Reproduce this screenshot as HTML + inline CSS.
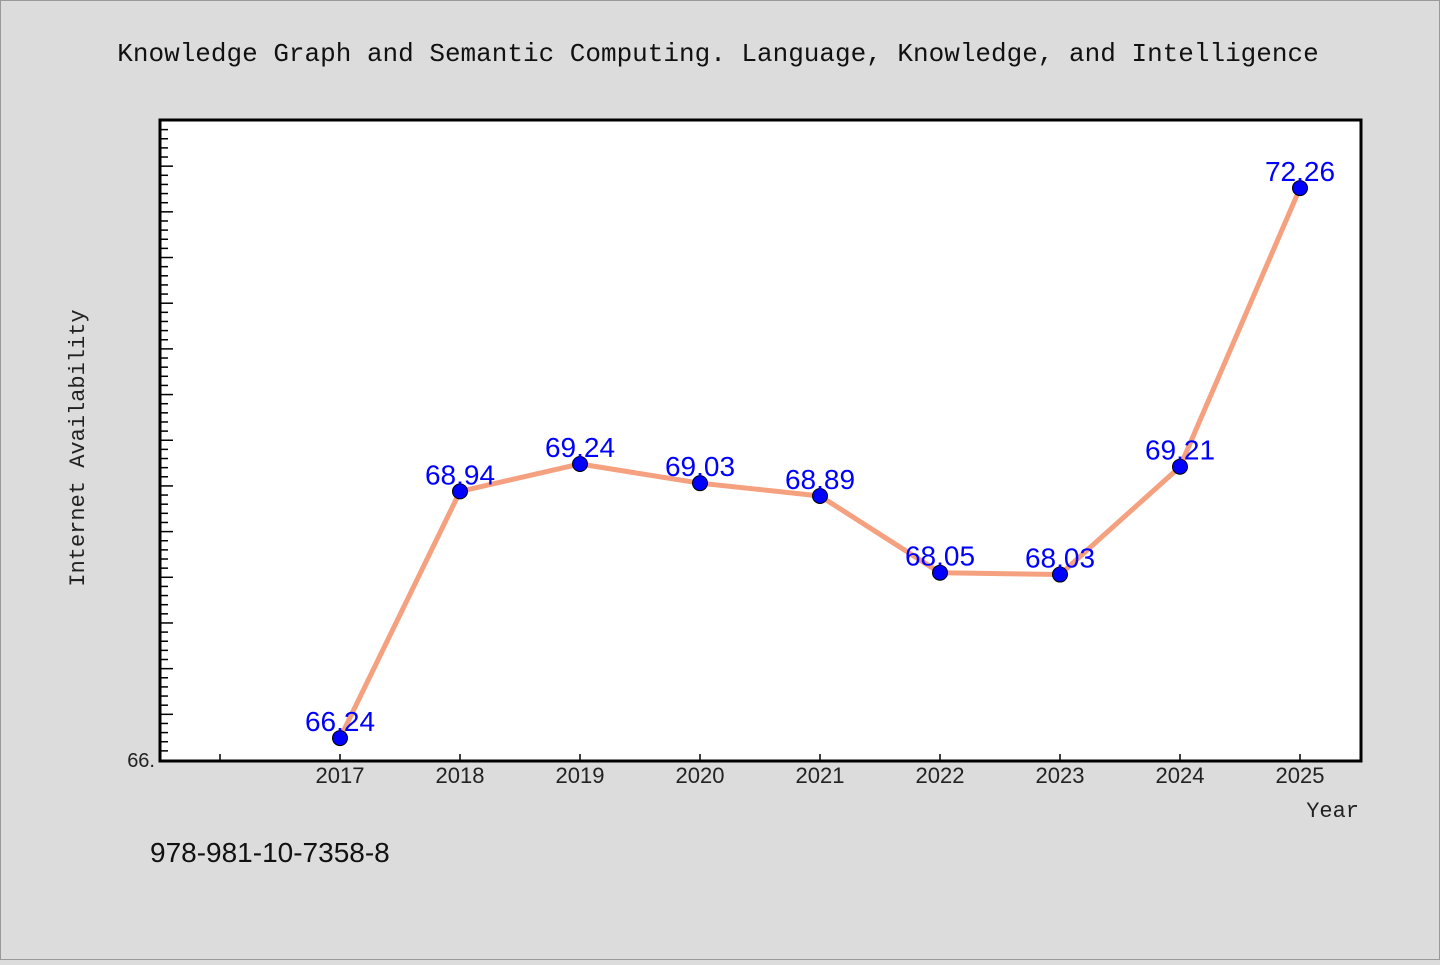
<!DOCTYPE html>
<html><head><meta charset="utf-8"><style>
body{margin:0;background:#dcdcdc;}
svg text{font-family:"Liberation Mono","DejaVu Sans Mono",monospace;}
</style></head><body>
<svg id="c" width="1440" height="960" xmlns="http://www.w3.org/2000/svg">
<rect x="0.5" y="0.5" width="1439" height="959" fill="#dcdcdc" stroke="#999"/>
<text x="718" y="61" text-anchor="middle" font-size="26" fill="#111">Knowledge Graph and Semantic Computing. Language, Knowledge, and Intelligence</text>
<rect x="160" y="120" width="1201" height="641" fill="#fff"/>
<g id="ticks"></g>
<g id="marks"></g>
<rect x="160" y="120" width="1201" height="641" fill="none" stroke="#000" stroke-width="3"/>
<text x="155" y="767" text-anchor="end" font-size="20" font-family="Liberation Sans, sans-serif" fill="#222" style="font-family:'Liberation Sans',sans-serif">66.</text>
<text transform="translate(84,448) rotate(-90)" text-anchor="middle" font-size="22" fill="#222">Internet Availability</text>
<text x="1359" y="817" text-anchor="end" font-size="22" fill="#222">Year</text>
<text x="150" y="862" font-size="28" fill="#111" style="font-family:'Liberation Sans',sans-serif">978-981-10-7358-8</text>
</svg>
<script>
const years=[2017,2018,2019,2020,2021,2022,2023,2024,2025];
const values=[66.24,68.94,69.24,69.03,68.89,68.05,68.03,69.21,72.26];
const labels=["66.24","68.94","69.24","69.03","68.89","68.05","68.03","69.21","72.26"];
const xTicks=[2016,2017,2018,2019,2020,2021,2022,2023,2024,2025];
const NS="http://www.w3.org/2000/svg";
const X=v=>340+(v-2017)*120;
const Y=v=>760-(v-66)*91.36;
function mk(t,a,p){const e=document.createElementNS(NS,t);for(const k in a)e.setAttribute(k,a[k]);p.appendChild(e);return e;}
const tk=document.getElementById('ticks'),mg=document.getElementById('marks');
for(let i=1;i<=69;i++){const v=66+i*0.1;const y=Y(v);if(y<122)break;const major=i%5===0;
const l=mk('line',{x1:160,x2:major?173:168,y1:y,y2:y,stroke:'#000','stroke-width':1.5},tk);

}
xTicks.forEach(yr=>{const x=X(yr);
const l=mk('line',{x1:x,x2:x,y1:761,y2:754,stroke:'#000','stroke-width':1.5},tk);


if(yr>=2017){const t=mk('text',{x:x,y:783,'text-anchor':'middle','font-size':22,fill:'#222',style:"font-family:'Liberation Sans',sans-serif"},tk);t.textContent=yr;

}});
const pl=mk('polyline',{points:years.map((y,i)=>X(y)+','+Y(values[i])).join(' '),fill:'none',stroke:'#f5a07e','stroke-width':5,'stroke-linejoin':'round'},mg);


years.forEach((yr,i)=>{
const c=mk('circle',{cx:X(yr),cy:Y(values[i]),r:7.5,fill:'#0000ff',stroke:'#000','stroke-width':1},mg);


const t=mk('text',{x:X(yr),y:Y(values[i])-7,'text-anchor':'middle','font-size':28,fill:'#0000ff',style:"font-family:'Liberation Sans',sans-serif"},mg);t.textContent=labels[i];

});
</script>
</body></html>
